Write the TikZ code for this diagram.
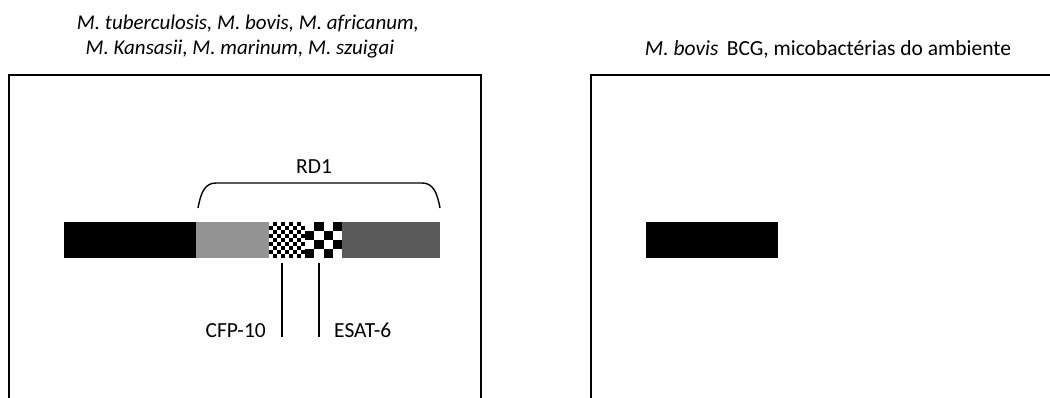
\documentclass[tikz,border=0pt]{standalone}
\usepackage{fontspec}
\setmainfont{Carlito}
\begin{document}
\begin{tikzpicture}[x=1pt,y=-1pt,
  frame/.style={line width=2pt,line join=miter},
  seg/.style={draw=none,minimum height=36pt,inner sep=0pt,anchor=north west},
  lbl/.style={inner sep=0pt,font=\fontsize{21.5}{24}\selectfont},
  ttl/.style={inner sep=0pt,font=\fontsize{21}{24}\selectfont\itshape,align=center},
  tick/.style={line width=2pt}]
\useasboundingbox (0,0) rectangle (1050,397);
\definecolor{lgray}{HTML}{939393}
\definecolor{dgray}{HTML}{5A5A5A}
% frames
\draw[frame] (9,400) -- (9,75) -- (481,75) -- (481,400);
\draw[frame] (591,400) -- (591,75) -- (1052,75);
% titles
\node[ttl,anchor=base] (t1) at (248,29) {M. tuberculosis, M. bovis, M. africanum,};
\node[ttl,anchor=base] (t2) at (240,54) {M. Kansasii, M. marinum, M. szuigai};
\node[lbl,anchor=base,font=\fontsize{21.5}{24}\selectfont] (t3) at (828,55) {\textit{M. bovis}\, BCG, micobactérias do ambiente};
% left bar
\node[seg,fill=black,minimum width=132pt] (blk) at (64,222) {};
\node[seg,fill=lgray,minimum width=73pt] (lg) at (196,222) {};
\node[seg,minimum width=36pt] (fine) at (269,222) {};
\node[seg,minimum width=37pt] (coarse) at (305,222) {};
\node[seg,fill=dgray,minimum width=98pt] (dg) at (342,222) {};
\foreach \i in {0,...,8}{\foreach \j in {0,...,8}{
  \pgfmathtruncatemacro\p{mod(\i+\j,2)}
  \ifnum\p=1 \fill[black] (269+4*\i,222+4*\j) rectangle ++(4,4);\fi}}
\foreach \i in {0,...,3}{\foreach \j in {0,...,3}{
  \pgfmathtruncatemacro\p{mod(\i+\j,2)}
  \ifnum\p=1 \fill[black] (305+9.25*\i,222+9*\j) rectangle ++(9.25,9);\fi}}
% brace
\node[lbl,anchor=base] (rd1) at (314,173) {RD1};
\draw[line width=1.4pt] (198,208) .. controls (201,192) and (205,183) .. (216,183) -- (422,183) .. controls (433,183) and (437,192) .. (440,208);
% ticks
\coordinate (c1) at (282,337);
\coordinate (c2) at (319,337);
\draw[tick] (fine.south -| c1) ++(0,5) -- (c1);
\draw[tick] (coarse.south -| c2) ++(0,5) -- (c2);
\node[lbl,anchor=base east] (cfp) at (266,337) {CFP-10};
\node[lbl,anchor=base west] (esat) at (334,337) {ESAT-6};
% right bar
\node[seg,fill=black,minimum width=132pt] (blk2) at (646,222) {};
\end{tikzpicture}
\end{document}
